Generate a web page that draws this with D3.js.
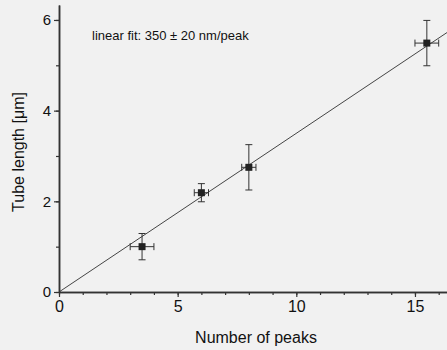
<!DOCTYPE html>
<html>
<head>
<meta charset="utf-8">
<script src="https://cdn.jsdelivr.net/npm/d3@7"></script>
<style>
    body { margin: 0; background: #f1f1f1; }
    svg { display: block; }
</style>
</head>
<body>
<div id="chart"></div>
<script>
// data
let peaks = [3.5, 6, 8, 15.5];
let tubeLength = [1.0, 2.19, 2.75, 5.49];
let peaksErr = [0.5, 0.3, 0.3, 0.5];
let lengthErr = [0.29, 0.2, 0.5, 0.5];
let fitSlope = 0.35; // um per peak
let xTicks = [0, 5, 10, 15];
let yTicks = [0, 2, 4, 6];
let fitLabel = "linear fit: 350 \u00b1 20 nm/peak";

let svgWidth = 447;
let svgHeight = 350;
let plotLeft = 59, plotRight = 447, plotTop = 5, plotBottom = 292;

let svg = d3.select("#chart").append("svg").attr("width", svgWidth).attr("height", svgHeight);
svg.append("rect").attr("width", svgWidth).attr("height", svgHeight).attr("fill", "#f1f1f1");

let x = d3.scaleLinear().domain([0, 16.35]).range([plotLeft, plotRight]);
let y = d3.scaleLinear().domain([0, 6.33]).range([plotBottom, plotTop]);

//fit line through origin
svg.append("line")
    .attr("x1", x(0)).attr("y1", y(0))
    .attr("x2", x(16.35)).attr("y2", y(fitSlope * 16.35))
    .attr("stroke", "#444").attr("stroke-width", 1);

//minor ticks first, then major axes
let xMinor = d3.axisBottom(x).tickValues(d3.range(0, 17, 1)).tickSize(3).tickSizeOuter(0).tickFormat("");
let yMinor = d3.axisLeft(y).tickValues(d3.range(0, 7, 1)).tickSize(3).tickSizeOuter(0).tickFormat("");
svg.append("g").attr("transform", "translate(0," + plotBottom + ")").call(xMinor);
svg.append("g").attr("transform", "translate(" + plotLeft + ",0)").call(yMinor);

let xAxis = svg.append("g").attr("transform", "translate(0," + plotBottom + ")")
    .call(d3.axisBottom(x).tickValues(xTicks).tickFormat(d3.format("d")).tickSize(5).tickSizeOuter(0).tickPadding(4));
let yAxis = svg.append("g").attr("transform", "translate(" + plotLeft + ",0)")
    .call(d3.axisLeft(y).tickValues(yTicks).tickFormat(d3.format("d")).tickSize(5).tickSizeOuter(0).tickPadding(3));

svg.selectAll(".domain").attr("stroke", "#333").attr("stroke-width", 1.5);
svg.selectAll(".tick line").attr("stroke", "#333").attr("stroke-width", 1.2);
xAxis.selectAll("text").attr("style", "font: 16px 'Liberation Sans', Arial, sans-serif").attr("fill", "#111");
yAxis.selectAll("text").attr("style", "font: 15px 'Liberation Sans', Arial, sans-serif").attr("fill", "#111");

//error bars
let capHalf = 3.5;
peaks.forEach((p, i) => {
    let cx = x(p), cy = y(tubeLength[i]);
    let g = svg.append("g").attr("stroke", "#333").attr("stroke-width", 1);
    // vertical bar
    g.append("line").attr("x1", cx).attr("x2", cx).attr("y1", y(tubeLength[i] - lengthErr[i])).attr("y2", y(tubeLength[i] + lengthErr[i]));
    g.append("line").attr("x1", cx - capHalf).attr("x2", cx + capHalf).attr("y1", y(tubeLength[i] - lengthErr[i])).attr("y2", y(tubeLength[i] - lengthErr[i]));
    g.append("line").attr("x1", cx - capHalf).attr("x2", cx + capHalf).attr("y1", y(tubeLength[i] + lengthErr[i])).attr("y2", y(tubeLength[i] + lengthErr[i]));
    // horizontal bar
    g.append("line").attr("y1", cy).attr("y2", cy).attr("x1", x(p - peaksErr[i])).attr("x2", x(p + peaksErr[i]));
    g.append("line").attr("y1", cy - capHalf).attr("y2", cy + capHalf).attr("x1", x(p - peaksErr[i])).attr("x2", x(p - peaksErr[i]));
    g.append("line").attr("y1", cy - capHalf).attr("y2", cy + capHalf).attr("x1", x(p + peaksErr[i])).attr("x2", x(p + peaksErr[i]));
    // square marker
    svg.append("rect").attr("x", cx - 3.5).attr("y", cy - 3.5).attr("width", 7).attr("height", 7).attr("fill", "#222");
});

//labels
svg.append("text").text(fitLabel).attr("x", 92).attr("y", 40)
    .attr("style", "font: 13px 'Liberation Sans', Arial, sans-serif").attr("fill", "#111");
svg.append("text").text("Number of peaks").attr("x", 256).attr("y", 343).attr("text-anchor", "middle")
    .attr("style", "font: 16px 'Liberation Sans', Arial, sans-serif").attr("fill", "#111");
svg.append("text").text("Tube length [\u03bcm]").attr("text-anchor", "middle")
    .attr("transform", "translate(24, 152) rotate(-90)")
    .attr("style", "font: 16px 'Liberation Sans', Arial, sans-serif").attr("fill", "#111");
</script>
</body>
</html>
